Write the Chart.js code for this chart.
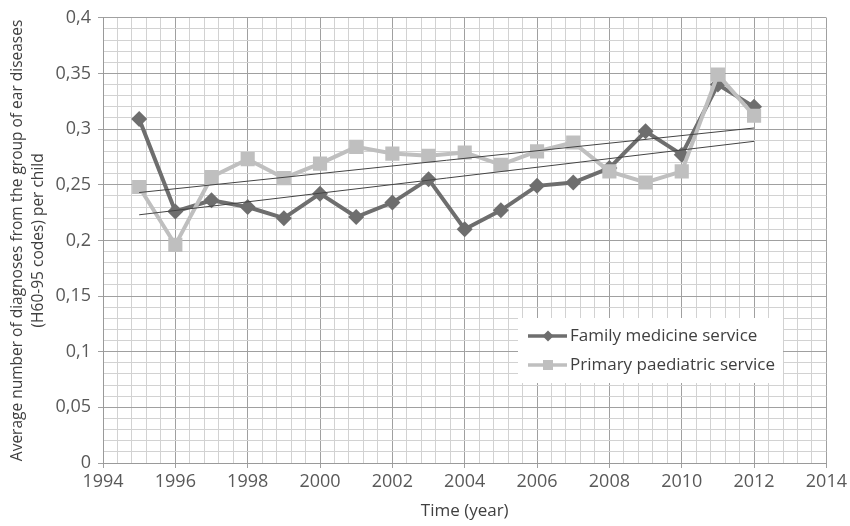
<!DOCTYPE html>
<html>
<head>
<meta charset="utf-8">
<script src="https://cdn.jsdelivr.net/npm/chart.js@4.4.1/dist/chart.umd.min.js"></script>
<style>
body{margin:0;background:#fff}
</style>
</head>
<body>
<canvas id="grafico" width="850" height="526"></canvas>
<script>

let anos = [1995,1996,1997,1998,1999,2000,2001,2002,2003,2004,2005,2006,2007,2008,2009,2010,2011,2012]

let familia = [0.309,0.226,0.236,0.230,0.220,0.242,0.221,0.234,0.255,0.210,0.227,0.249,0.252,0.265,0.298,0.277,0.340,0.320]

let pediatria = [0.248,0.196,0.257,0.273,0.256,0.269,0.284,0.278,0.276,0.279,0.268,0.280,0.288,0.262,0.252,0.262,0.349,0.312]

// trend lines, read at both ends
let anosTendencia = [1995,2012]
let tendFamilia = [0.223,0.289]
let tendPediatria = [0.243,0.301]

let nomes = ["Family medicine service","Primary paediatric service"]

let corFamilia = "#6e6e6e"
let corPediatria = "#bfbfbf"
let fonte = "'Open Sans', sans-serif"

function pontos(xs, ys){
return xs.map((x,i) => ({x:x, y:ys[i]}))
}

function ehInteiro(v, passo){
return Math.abs(v/passo - Math.round(v/passo)) < 1e-6
}

let legenda = {
id:"legendaInterna",
afterDraw(chart){
let ctx = chart.ctx
ctx.save()
ctx.fillStyle = "#ffffff"
ctx.fillRect(518,318,265,65)

let linhas = [
{y:336, cor:corFamilia, tipo:"diamante", texto:nomes[0]},
{y:365, cor:corPediatria, tipo:"quadrado", texto:nomes[1]}
]

linhas.forEach(l => {
ctx.strokeStyle = l.cor
ctx.lineWidth = 3.5
ctx.beginPath()
ctx.moveTo(528,l.y)
ctx.lineTo(567,l.y)
ctx.stroke()
ctx.fillStyle = l.cor
if(l.tipo == "diamante"){
ctx.beginPath()
ctx.moveTo(548,l.y-5.5)
ctx.lineTo(553.5,l.y)
ctx.lineTo(548,l.y+5.5)
ctx.lineTo(542.5,l.y)
ctx.closePath()
ctx.fill()
}else{
ctx.fillRect(543,l.y-5,10,10)
}
ctx.fillStyle = "#404040"
ctx.font = "17px " + fonte
ctx.textBaseline = "middle"
ctx.textAlign = "left"
ctx.fillText(l.texto,570,l.y)
})
ctx.restore()
}
}

let grafico = new Chart(document.getElementById("grafico"),{

type:"line",

data:{
datasets:[
{
label:"tendFamilia",
data:pontos(anosTendencia,tendFamilia),
borderColor:"#444444",
borderWidth:1,
pointRadius:0,
order:0
},
{
label:"tendPediatria",
data:pontos(anosTendencia,tendPediatria),
borderColor:"#444444",
borderWidth:1,
pointRadius:0,
order:0
},
{
label:nomes[1],
data:pontos(anos,pediatria),
borderColor:corPediatria,
backgroundColor:corPediatria,
borderWidth:4,
pointStyle:"rect",
pointRadius:10,
pointBorderWidth:0,
order:1
},
{
label:nomes[0],
data:pontos(anos,familia),
borderColor:corFamilia,
backgroundColor:corFamilia,
borderWidth:4,
pointStyle:"rectRot",
pointRadius:8,
pointBorderWidth:0,
order:2
}
]
},

options:{
responsive:false,
animation:false,
events:[],
layout:{padding:{top:16,right:23,left:0,bottom:0}},
plugins:{
legend:{display:false},
tooltip:{enabled:false}
},
scales:{
x:{
type:"linear",
min:1994,
max:2014,
afterFit(s){ s.height = 63 },
border:{color:"#9a9a9a"},
grid:{
color:c => ehInteiro(c.tick.value,2) ? "#a0a0a0" : "#d2d2d2",
tickColor:c => ehInteiro(c.tick.value,2) ? "#a0a0a0" : "rgba(0,0,0,0)",
tickLength:5
},
ticks:{
stepSize:0.4,
autoSkip:false,
maxRotation:0,
padding:3,
color:"#595959",
font:{family:fonte,size:18},
callback:v => ehInteiro(v,2) ? String(Math.round(v)) : ""
},
title:{
display:true,
text:"Time (year)",
color:"#404040",
font:{family:fonte,size:17},
padding:{top:0,bottom:5}
}
},
y:{
min:0,
max:0.4,
afterFit(s){ s.width = 103 },
border:{color:"#9a9a9a"},
grid:{
color:c => ehInteiro(c.tick.value,0.05) ? "#a0a0a0" : "#d2d2d2",
tickColor:c => ehInteiro(c.tick.value,0.05) ? "#a0a0a0" : "rgba(0,0,0,0)",
tickLength:5
},
ticks:{
stepSize:0.01,
autoSkip:false,
padding:7,
color:"#595959",
font:{family:fonte,size:18},
callback:v => ehInteiro(v,0.05) ? String(Math.round(v*100)/100).replace(".",",") : ""
},
title:{
display:true,
text:["Average number of diagnoses from the group of ear diseases","(H60-95 codes) per child"],
color:"#404040",
font:{family:fonte,size:15.5,lineHeight:1.3},
padding:{top:8,bottom:0}
}
}
}
},

plugins:[legenda]

})

</script>
</body>
</html>
